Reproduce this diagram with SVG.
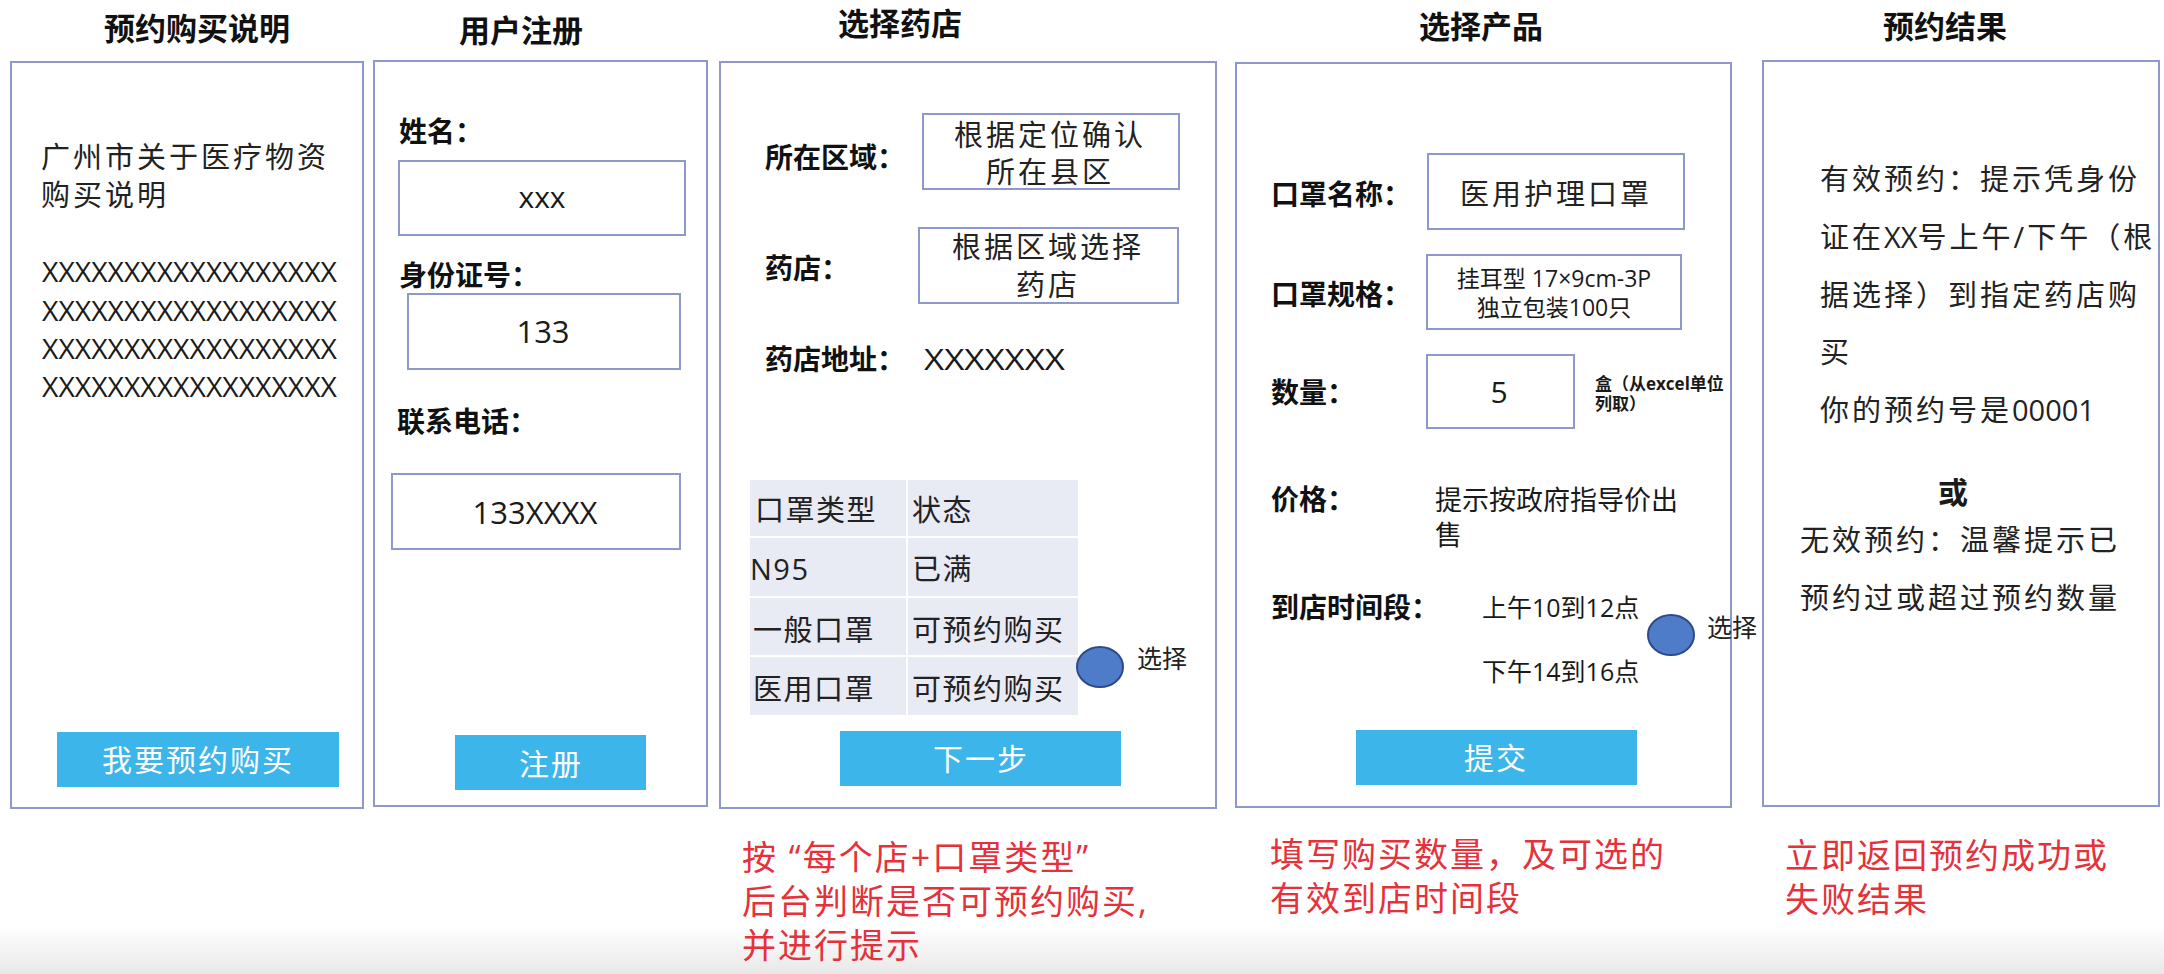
<svg xmlns="http://www.w3.org/2000/svg" width="2164" height="974" viewBox="0 0 2164 974">
<defs>
<linearGradient id="band" x1="0" y1="0" x2="0" y2="1">
<stop offset="0" stop-color="#ffffff"/>
<stop offset="1" stop-color="#e8e8e8"/>
</linearGradient>
<style>
text{font-family:"Open Sans","Noto Sans CJK SC",sans-serif;fill:#1a1a1a}
.panel{fill:#fff;stroke:#8e98cc;stroke-width:2}
.box{fill:#fff;stroke:#8e98cc;stroke-width:2}
.btn{fill:#3cb5ea}
.title{font-size:31px;font-weight:bold;text-anchor:middle;fill:#111}
.lbl{font-size:28px;font-weight:bold;fill:#111}
.txt{font-size:29px;letter-spacing:3px;fill:#222}
.lat{letter-spacing:0px}
.mid{text-anchor:middle}
.btxt{font-size:30px;letter-spacing:2px;text-anchor:middle;fill:#fff}
.red{font-size:34px;letter-spacing:2px;fill:#e5323a}
.cell{fill:#e8eaf4}
.tc{font-size:29px;letter-spacing:1.5px;fill:#222}
.dot{fill:#4f7cc9;stroke:#2c4a8a;stroke-width:2}
.sel{font-size:25px;fill:#222}
</style>
</defs>
<rect x="0" y="0" width="2164" height="974" fill="#fff"/>
<rect x="0" y="925" width="2164" height="49" fill="url(#band)"/>

<g id="panel-intro">
<text class="title" x="197" y="40">预约购买说明</text>
<rect class="panel" x="11" y="62" width="352" height="746"/>
<text class="txt" x="41" y="168">广州市关于医疗物资</text>
<text class="txt" x="41" y="206">购买说明</text>
<text x="42" y="282" font-size="28" textLength="295" lengthAdjust="spacingAndGlyphs">XXXXXXXXXXXXXXXXXX</text>
<text x="42" y="321" font-size="28" textLength="295" lengthAdjust="spacingAndGlyphs">XXXXXXXXXXXXXXXXXX</text>
<text x="42" y="359" font-size="28" textLength="295" lengthAdjust="spacingAndGlyphs">XXXXXXXXXXXXXXXXXX</text>
<text x="42" y="397" font-size="28" textLength="295" lengthAdjust="spacingAndGlyphs">XXXXXXXXXXXXXXXXXX</text>
<rect class="btn" x="57" y="732" width="282" height="55"/>
<text class="btxt" x="198" y="771">我要预约购买</text>
</g>

<g id="panel-register">
<text class="title" x="521" y="42">用户注册</text>
<rect class="panel" x="374" y="61" width="333" height="745"/>
<text class="lbl" x="399" y="142">姓名：</text>
<rect class="box" x="399" y="161" width="286" height="74"/>
<text x="542" y="208" font-size="30" text-anchor="middle">xxx</text>
<text class="lbl" x="399" y="286">身份证号：</text>
<rect class="box" x="408" y="294" width="272" height="75"/>
<text x="543" y="343" font-size="31" text-anchor="middle">133</text>
<text class="lbl" x="397" y="432">联系电话：</text>
<rect class="box" x="392" y="474" width="288" height="75"/>
<text x="535" y="524" font-size="31" text-anchor="middle">133XXXX</text>
<rect class="btn" x="455" y="735" width="191" height="55"/>
<text class="btxt" x="551" y="775">注册</text>
</g>

<g id="panel-store">
<text class="title" x="900" y="35">选择药店</text>
<rect class="panel" x="720" y="62" width="496" height="746"/>
<text class="lbl" x="765" y="168">所在区域：</text>
<rect class="box" x="923" y="114" width="256" height="75"/>
<text class="txt mid" x="1050" y="146">根据定位确认</text>
<text class="txt mid" x="1050" y="183">所在县区</text>
<text class="lbl" x="765" y="279">药店：</text>
<rect class="box" x="919" y="228" width="259" height="75"/>
<text class="txt mid" x="1048" y="258">根据区域选择</text>
<text class="txt mid" x="1048" y="296">药店</text>
<text class="lbl" x="765" y="370">药店地址：</text>
<text x="924" y="370" font-size="30" textLength="141" lengthAdjust="spacingAndGlyphs">XXXXXXX</text>
<g id="mask-table">
<rect class="cell" x="750" y="480" width="156" height="56"/>
<rect class="cell" x="908" y="480" width="170" height="56"/>
<rect class="cell" x="750" y="538" width="156" height="58"/>
<rect class="cell" x="908" y="538" width="170" height="58"/>
<rect class="cell" x="750" y="598" width="156" height="57"/>
<rect class="cell" x="908" y="598" width="170" height="57"/>
<rect class="cell" x="750" y="657" width="156" height="58"/>
<rect class="cell" x="908" y="657" width="170" height="58"/>
<text class="tc" x="755" y="521">口罩类型</text>
<text class="tc" x="912" y="521">状态</text>
<text class="tc" x="750" y="580" letter-spacing="0">N95</text>
<text class="tc" x="912" y="580">已满</text>
<text class="tc" x="753" y="641">一般口罩</text>
<text class="tc" x="912" y="641">可预约购买</text>
<text class="tc" x="753" y="700">医用口罩</text>
<text class="tc" x="912" y="700">可预约购买</text>
</g>
<ellipse class="dot" cx="1100" cy="667" rx="23" ry="20"/>
<text class="sel" x="1137" y="668">选择</text>
<rect class="btn" x="840" y="731" width="281" height="55"/>
<text class="btxt" x="981" y="770">下一步</text>
<text class="red" x="742" y="870">按  “每个店+口罩类型”</text>
<text class="red" x="742" y="914">后台判断是否可预约购买,</text>
<text class="red" x="742" y="958">并进行提示</text>
</g>

<g id="panel-product">
<text class="title" x="1481" y="38">选择产品</text>
<rect class="panel" x="1236" y="63" width="495" height="744"/>
<text class="lbl" x="1271" y="205">口罩名称：</text>
<rect class="box" x="1428" y="154" width="256" height="75"/>
<text class="txt mid" x="1556" y="205">医用护理口罩</text>
<text class="lbl" x="1271" y="305">口罩规格：</text>
<rect class="box" x="1427" y="255" width="254" height="74"/>
<text x="1554" y="287" font-size="23" text-anchor="middle">挂耳型 17×9cm-3P</text>
<text x="1554" y="316" font-size="23" text-anchor="middle">独立包装100只</text>
<text class="lbl" x="1271" y="403">数量：</text>
<rect class="box" x="1427" y="355" width="147" height="73"/>
<text x="1499" y="403" font-size="30" text-anchor="middle">5</text>
<text x="1595" y="390" font-size="17" font-weight="bold">盒（从excel单位</text>
<text x="1595" y="410" font-size="17" font-weight="bold">列取）</text>
<text class="lbl" x="1271" y="510">价格：</text>
<text x="1435" y="510" font-size="27" fill="#222">提示按政府指导价出</text>
<text x="1435" y="545" font-size="27" fill="#222">售</text>
<text class="lbl" x="1271" y="618">到店时间段：</text>
<text x="1482" y="617" font-size="25" fill="#222">上午10到12点</text>
<text x="1482" y="681" font-size="25" fill="#222">下午14到16点</text>
<ellipse class="dot" cx="1671" cy="635" rx="23" ry="20"/>
<text class="sel" x="1707" y="637">选择</text>
<rect class="btn" x="1356" y="730" width="281" height="55"/>
<text class="btxt" x="1496" y="769">提交</text>
<text class="red" x="1270" y="867">填写购买数量，及可选的</text>
<text class="red" x="1270" y="911">有效到店时间段</text>
</g>

<g id="panel-result">
<text class="title" x="1945" y="38">预约结果</text>
<rect class="panel" x="1763" y="61" width="396" height="745"/>
<text class="txt" x="1820" y="190">有效预约：提示凭身份</text>
<text class="txt" x="1820" y="248">证在<tspan class="lat">XX</tspan>号上午/下午（根</text>
<text class="txt" x="1820" y="306">据选择）到指定药店购</text>
<text class="txt" x="1820" y="363">买</text>
<text class="txt" x="1820" y="421">你的预约号是<tspan class="lat">00001</tspan></text>
<text x="1953" y="503" font-size="30" font-weight="bold" text-anchor="middle">或</text>
<text class="txt" x="1800" y="551">无效预约：温馨提示已</text>
<text class="txt" x="1800" y="609">预约过或超过预约数量</text>
<text class="red" x="1785" y="868">立即返回预约成功或</text>
<text class="red" x="1785" y="912">失败结果</text>
</g>

<g id="connectors"/>
</svg>
